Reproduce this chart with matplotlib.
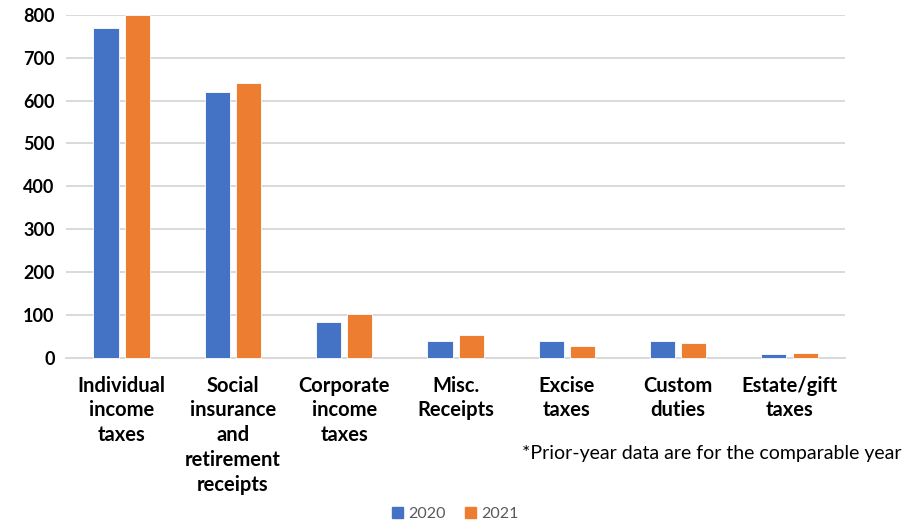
import numpy as np
import matplotlib
matplotlib.use("Agg")
import matplotlib.pyplot as plt
from matplotlib.patches import Patch

plt.rcParams['font.family'] = ['Lato', 'DejaVu Sans']

categories = ["Individual\nincome\ntaxes", "Social\ninsurance\nand\nretirement\nreceipts",
              "Corporate\nincome\ntaxes", "Misc.\nReceipts", "Excise\ntaxes",
              "Custom\nduties", "Estate/gift\ntaxes"]
vals_2020 = [770, 619, 82, 39, 38, 38, 8]
vals_2021 = [801, 641, 102, 53, 28, 35, 10]
yticks = [0, 100, 200, 300, 400, 500, 600, 700, 800]

blue = "#4472C4"
orange = "#ED7D31"

fig = plt.figure(figsize=(9.03, 5.27), dpi=100)
ax = fig.add_axes([0.073, 0.3216, 0.863, 0.65])

x = np.arange(len(categories))
w = 0.225
off = 0.14
ax.bar(x - off, vals_2020, w, color=blue, edgecolor="white", linewidth=0.6, zorder=3, clip_on=False)
ax.bar(x + off, vals_2021, w, color=orange, edgecolor="white", linewidth=0.6, zorder=3, clip_on=False)

ax.set_xlim(-0.5, len(categories) - 0.5)
ax.set_ylim(0, 800)
ax.set_yticks(yticks)
ax.set_yticklabels([str(t) for t in yticks], fontsize=13, fontweight="bold")
ax.set_xticks(x)
ax.set_xticklabels(categories, fontsize=14.5, fontweight="bold", linespacing=1.3, va="top")
ax.tick_params(axis="both", length=0)
ax.tick_params(axis="x", pad=13)
ax.tick_params(axis="y", pad=8)

ax.grid(axis="y", color="#d9d9d9", linewidth=1.4, zorder=0)
for s in ["top", "right", "left"]:
    ax.spines[s].set_visible(False)
ax.spines["bottom"].set_color("#d9d9d9")
ax.spines["bottom"].set_linewidth(1.4)

fig.text(0.998, 0.14, "*Prior-year data are for the comparable year",
         ha="right", va="center", fontsize=14)

handles = [Patch(color=blue, label="2020"), Patch(color=orange, label="2021")]
fig.legend(handles=handles, loc="center", bbox_to_anchor=(0.504, 0.025), ncol=2, frameon=False,
           fontsize=11.5, handlelength=0.7, handleheight=0.7, handletextpad=0.3, columnspacing=1.2,
           labelcolor="#595959")

fig.savefig("out.png", dpi=100)
